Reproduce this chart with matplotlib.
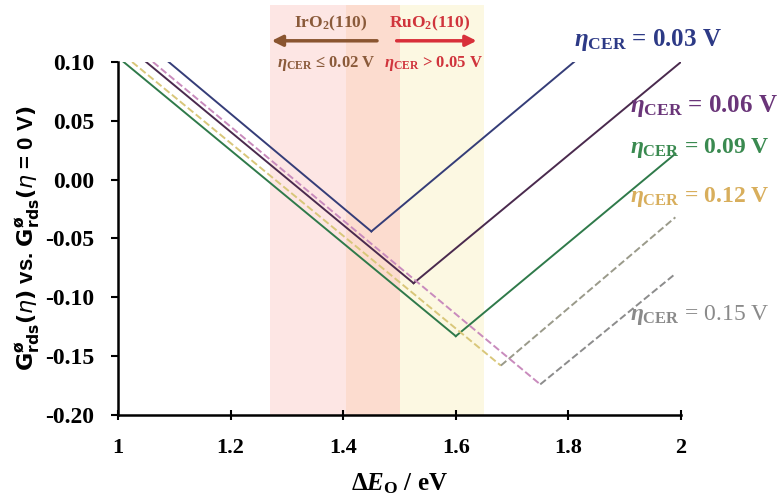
import matplotlib
matplotlib.use("Agg")
import matplotlib.pyplot as plt

plt.rcParams['font.family'] = ['Liberation Serif', 'DejaVu Serif']
plt.rcParams['mathtext.fontset'] = 'custom'
plt.rcParams['mathtext.rm'] = 'Liberation Serif:bold'
plt.rcParams['mathtext.it'] = 'Liberation Serif:italic:bold'
plt.rcParams['mathtext.bf'] = 'Liberation Serif:bold'

# V-shaped curves: start, minimum, end (x = Delta E_O / eV, y = G / eV)
eta_labels = ["0.03", "0.06", "0.09", "0.12", "0.15"]
x_pts = [[1.09, 1.45, 1.81],
         [1.05, 1.525, 2.00],
         [1.01, 1.60, 1.99],
         [1.025, 1.68, 1.99],
         [1.062, 1.75, 1.99]]
y_pts = [[0.10, -0.044, 0.10],
         [0.10, -0.088, 0.10],
         [0.10, -0.133, 0.022],
         [0.10, -0.158, -0.032],
         [0.10, -0.174, -0.080]]
left_colors = ["#353d78", "#4a2a4e", "#2f7a4a", "#d9c77a", "#c98bbd"]
right_colors = ["#353d78", "#4a2a4e", "#2f7a4a", "#9a9a8a", "#8c8c8c"]
styles = ["-", "-", "-", "--", "--"]
label_colors = ["#2d3a86", "#6a3579", "#3a8a50", "#d8ae5c", "#8a8a8a"]
label_y = [0.119, 0.063, 0.027, -0.015, -0.115]
label_x = [1.81, 1.91, 1.91, 1.91, 1.91]

# shaded regions (x ranges)
band_x = [(1.27, 1.405), (1.405, 1.50), (1.50, 1.65)]
band_colors = ["#fde6e4", "#fcdccf", "#fcf8e2"]

fig = plt.figure(figsize=(7.78, 4.97), dpi=100)
ax = fig.add_axes([0.1517, 0.165, 0.7236, 0.7103])

for (x0, x1), c in zip(band_x, band_colors):
    ax.axvspan(x0, x1, ymin=0, ymax=1.16, color=c, lw=0, clip_on=False, zorder=0)

for i in range(len(eta_labels)):
    ax.plot(x_pts[i][:2], y_pts[i][:2], ls=styles[i], color=left_colors[i], lw=1.4, zorder=3)
    ax.plot(x_pts[i][1:], y_pts[i][1:], ls=styles[i], color=right_colors[i], lw=1.4, zorder=3)
    fw = 'bold' if i < 4 else 'normal'
    lab = r'$\eta_{\mathbf{CER}}$ = ' if i < 4 else r'$\eta_{\rm CER}$ = '
    ax.text(label_x[i], label_y[i], lab + eta_labels[i] + ' V',
            color=label_colors[i], fontsize=18 if i < 2 else 17, fontweight=fw,
            ha='left', va='center', clip_on=False)

# IrO2 / RuO2 annotations
ax.text(1.377, 0.133, r'IrO$_2$(110)', color="#8a5a3a", fontsize=12.5, fontweight='bold',
        ha='center', va='center')
ax.annotate('', xy=(1.268, 0.118), xytext=(1.465, 0.118), annotation_clip=False,
            arrowprops=dict(arrowstyle='-|>', color="#8a5530", lw=2.5, mutation_scale=16))
ax.text(1.37, 0.099, r'$\eta_{\rm CER}$ ≤ 0.02 V', color="#8a5a3a", fontsize=12,
        fontweight='bold', ha='center', va='center')
ax.text(1.553, 0.133, r'RuO$_2$(110)', color="#d0343c", fontsize=12.5, fontweight='bold',
        ha='center', va='center')
ax.annotate('', xy=(1.642, 0.118), xytext=(1.49, 0.118), annotation_clip=False,
            arrowprops=dict(arrowstyle='-|>', color="#d8303a", lw=2.5, mutation_scale=16))
ax.text(1.56, 0.099, r'$\eta_{\rm CER}$ > 0.05 V', color="#d0343c", fontsize=12,
        fontweight='bold', ha='center', va='center')

ax.set_xlim(1, 2)
ax.set_ylim(-0.20, 0.10)
ax.set_xticks([1, 1.2, 1.4, 1.6, 1.8, 2])
ax.set_xticklabels(["1", "1.2", "1.4", "1.6", "1.8", "2"])
ax.set_yticks([0.10, 0.05, 0.00, -0.05, -0.10, -0.15, -0.20])
ax.set_yticklabels(["0.10", "0.05", "0.00", "-0.05", "-0.10", "-0.15", "-0.20"])
for lab in ax.get_xticklabels():
    lab.set_fontweight('bold')
    lab.set_fontsize(16)
for lab in ax.get_yticklabels():
    lab.set_fontweight('bold')
    lab.set_fontsize(17)
ax.tick_params(axis='x', direction='inout', length=7, width=1.5, pad=13)
ax.tick_params(axis='y', direction='out', length=5, width=1.5, pad=12)
ax.spines['top'].set_visible(False)
ax.spines['right'].set_visible(False)
ax.spines['left'].set_linewidth(1.8)
ax.spines['bottom'].set_linewidth(1.8)
ax.patch.set_alpha(0)

ax.set_xlabel(r'$\Delta \mathit{E}_{\mathbf{O}}$ / eV', fontsize=18, fontweight='bold',
              labelpad=10)
ax.set_ylabel(r'$\mathbf{G}^{\mathbf{ø}}_{\mathbf{rds}}\mathbf{(}\eta\mathbf{)}$ vs. '
              r'$\mathbf{G}^{\mathbf{ø}}_{\mathbf{rds}}\mathbf{(}\eta$ = 0 V$\mathbf{)}$',
              fontsize=16, fontweight='bold', family=['Liberation Sans', 'DejaVu Sans'],
              math_fontfamily='dejavusans', labelpad=2)

fig.savefig("out.png", dpi=100)
